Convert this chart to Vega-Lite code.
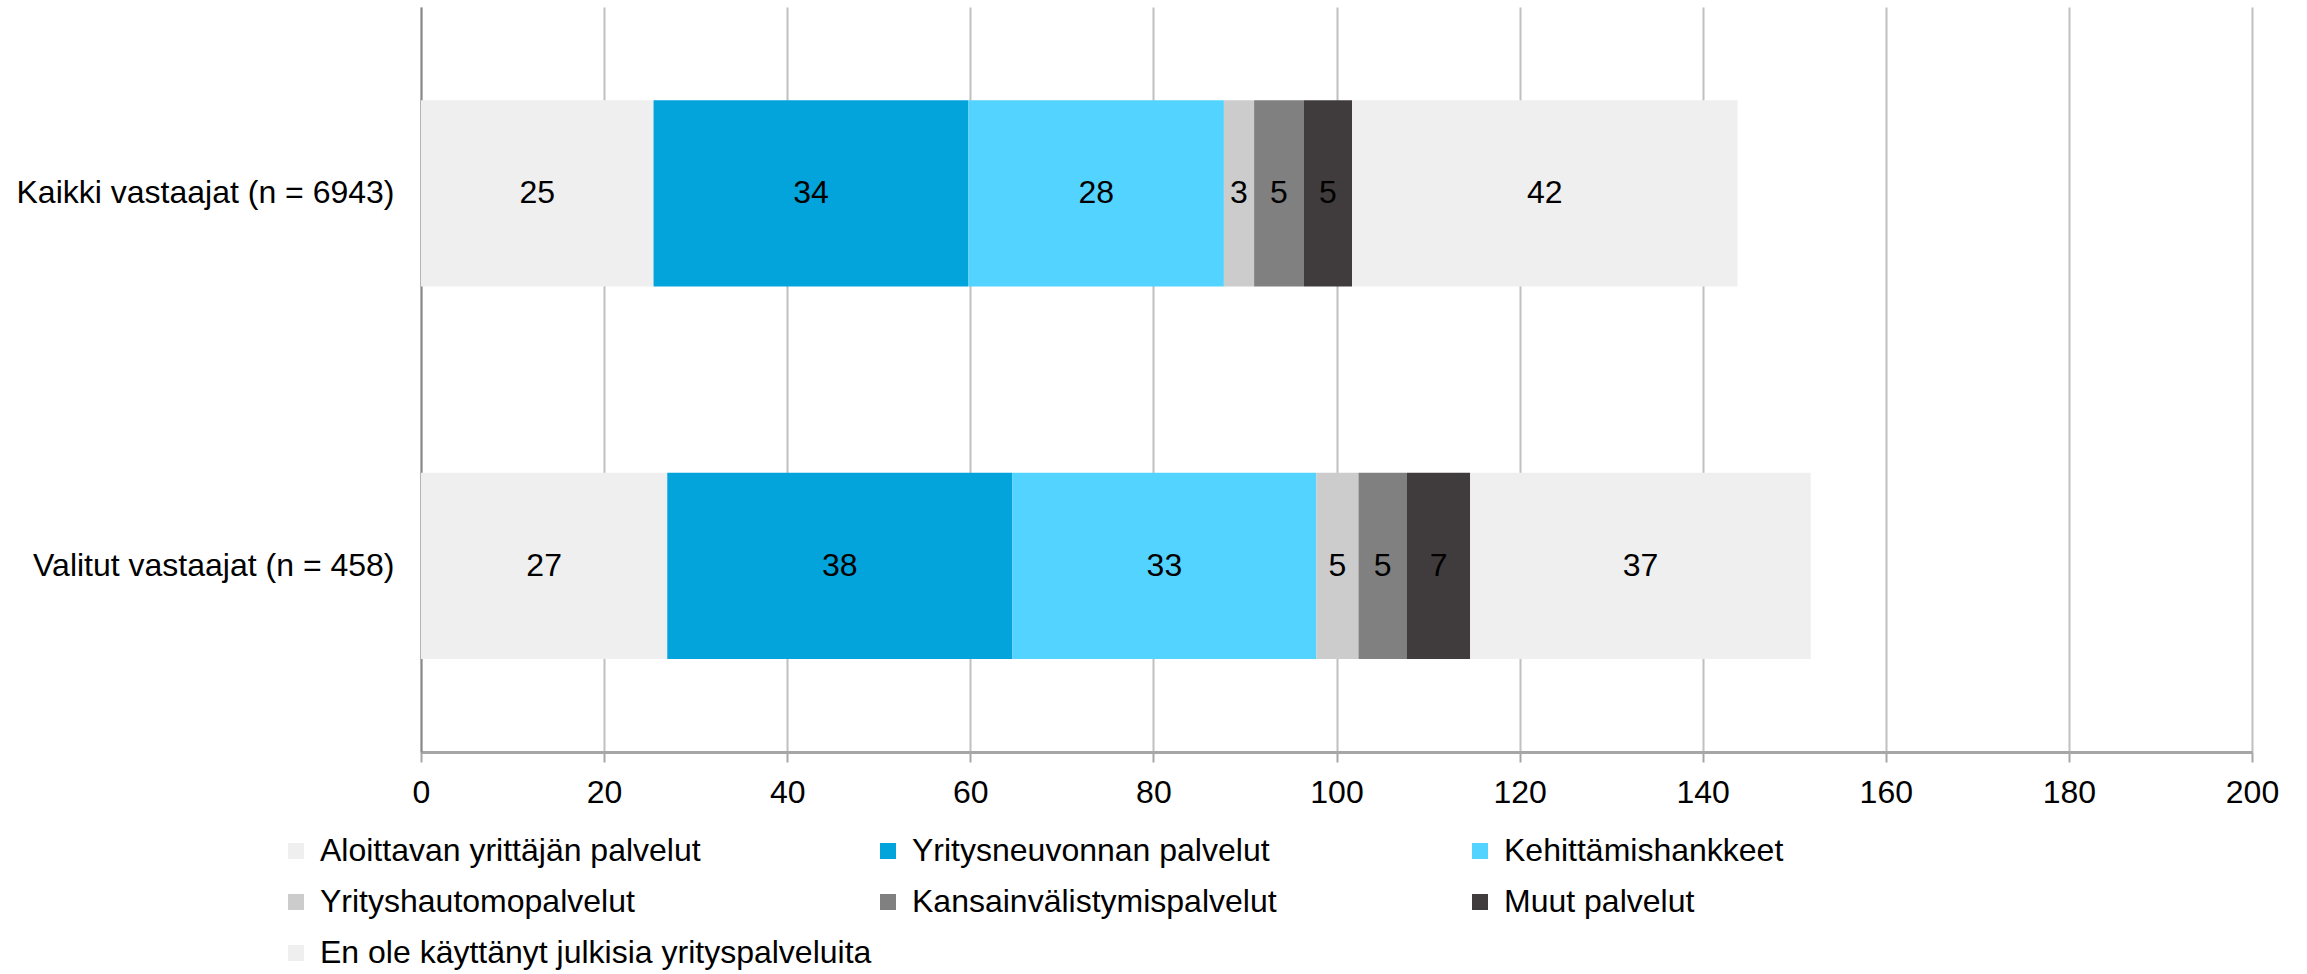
{
  "$schema": "https://vega.github.io/schema/vega-lite/v6.json",
  "width": 1831,
  "height": 745,
  "autosize": {"type": "none"},
  "padding": {"left": 421, "top": 7, "right": 55, "bottom": 222},
  "background": "white",
  "config": {
    "view": {"stroke": null},
    "font": "Liberation Sans",
    "text": {"font": "Liberation Sans"}
  },
  "data": {
    "values": [
      {"ryhma": "Kaikki vastaajat (n = 6943)", "palvelu": "Aloittavan yrittäjän palvelut", "k": 1, "arvo": 25.4},
      {"ryhma": "Kaikki vastaajat (n = 6943)", "palvelu": "Yritysneuvonnan palvelut", "k": 2, "arvo": 34.4},
      {"ryhma": "Kaikki vastaajat (n = 6943)", "palvelu": "Kehittämishankkeet", "k": 3, "arvo": 27.9},
      {"ryhma": "Kaikki vastaajat (n = 6943)", "palvelu": "Yrityshautomopalvelut", "k": 4, "arvo": 3.3},
      {"ryhma": "Kaikki vastaajat (n = 6943)", "palvelu": "Kansainvälistymispalvelut", "k": 5, "arvo": 5.4},
      {"ryhma": "Kaikki vastaajat (n = 6943)", "palvelu": "Muut palvelut", "k": 6, "arvo": 5.3},
      {"ryhma": "Kaikki vastaajat (n = 6943)", "palvelu": "En ole käyttänyt julkisia yrityspalveluita", "k": 7, "arvo": 42.1},
      {"ryhma": "Valitut vastaajat (n = 458)", "palvelu": "Aloittavan yrittäjän palvelut", "k": 1, "arvo": 26.9},
      {"ryhma": "Valitut vastaajat (n = 458)", "palvelu": "Yritysneuvonnan palvelut", "k": 2, "arvo": 37.7},
      {"ryhma": "Valitut vastaajat (n = 458)", "palvelu": "Kehittämishankkeet", "k": 3, "arvo": 33.2},
      {"ryhma": "Valitut vastaajat (n = 458)", "palvelu": "Yrityshautomopalvelut", "k": 4, "arvo": 4.6},
      {"ryhma": "Valitut vastaajat (n = 458)", "palvelu": "Kansainvälistymispalvelut", "k": 5, "arvo": 5.3},
      {"ryhma": "Valitut vastaajat (n = 458)", "palvelu": "Muut palvelut", "k": 6, "arvo": 6.9},
      {"ryhma": "Valitut vastaajat (n = 458)", "palvelu": "En ole käyttänyt julkisia yrityspalveluita", "k": 7, "arvo": 37.2}
    ]
  },
  "transform": [
    {"stack": "arvo", "groupby": ["ryhma"], "sort": [{"field": "k", "order": "ascending"}], "as": ["alku", "loppu"]},
    {"calculate": "(datum.alku + datum.loppu) / 2", "as": "keski"}
  ],
  "encoding": {
    "y": {
      "field": "ryhma", "type": "nominal", "title": null,
      "sort": ["Kaikki vastaajat (n = 6943)", "Valitut vastaajat (n = 458)"],
      "scale": {"paddingInner": 0.5, "paddingOuter": 0.25},
      "axis": {
        "domain": true, "domainColor": "#898989", "domainWidth": 2,
        "ticks": false, "labelFontSize": 32, "labelColor": "#000000",
        "labelPadding": 27, "labelFont": "Liberation Sans", "labelLimit": 600
      }
    }
  },
  "layer": [
    {
      "mark": {"type": "bar"},
      "encoding": {
        "x": {
          "field": "alku", "type": "quantitative", "title": null,
          "scale": {"domain": [0, 200], "nice": false},
          "axis": {
            "values": [0, 20, 40, 60, 80, 100, 120, 140, 160, 180, 200],
            "grid": true, "gridColor": "#C0C0C0", "gridWidth": 2,
            "domainColor": "#A6A6A6", "domainWidth": 3,
            "tickColor": "#A6A6A6", "tickWidth": 2, "tickSize": 10,
            "labelFontSize": 32, "labelColor": "#000000", "labelPadding": 15,
            "labelFlush": false, "labelFont": "Liberation Sans"
          }
        },
        "x2": {"field": "loppu"},
        "color": {
          "field": "palvelu", "type": "nominal", "title": null,
          "scale": {
            "domain": ["Aloittavan yrittäjän palvelut", "Yritysneuvonnan palvelut", "Kehittämishankkeet", "Yrityshautomopalvelut", "Kansainvälistymispalvelut", "Muut palvelut", "En ole käyttänyt julkisia yrityspalveluita"],
            "range": ["#EFEFEF", "#03A4DB", "#53D3FF", "#CCCCCC", "#808080", "#403C3D", "#EFEFEF"]
          },
          "legend": {
            "orient": "none", "legendX": -141, "legendY": 828,
            "direction": "horizontal", "columns": 3, "gridAlign": "all",
            "columnPadding": -17, "rowPadding": 19,
            "symbolType": "square", "symbolSize": 256, "symbolStrokeWidth": 0,
            "labelFontSize": 32, "labelColor": "#000000", "labelFont": "Liberation Sans",
            "labelLimit": 900, "labelOffset": 8
          }
        }
      }
    },
    {
      "mark": {"type": "text", "fontSize": 32, "color": "#000000", "font": "Liberation Sans", "align": "center", "baseline": "middle"},
      "encoding": {
        "x": {"field": "keski", "type": "quantitative"},
        "text": {"field": "arvo", "type": "quantitative", "format": ".0f"}
      }
    }
  ]
}
